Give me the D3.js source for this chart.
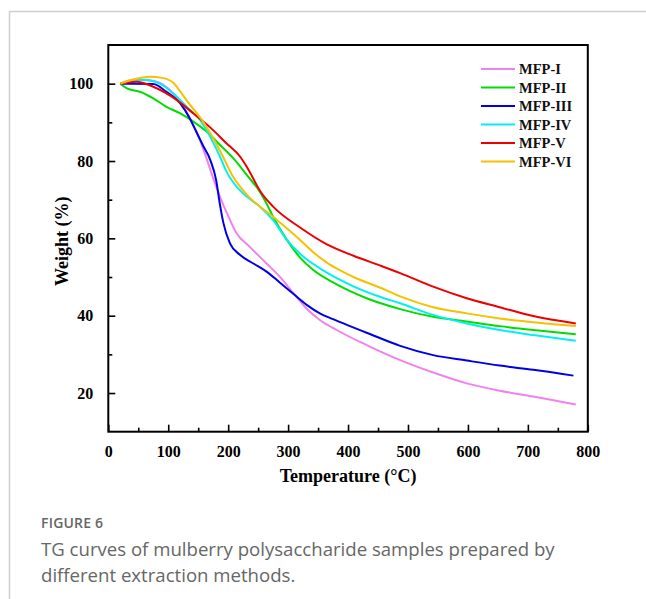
<!DOCTYPE html>
<html>
<head>
<meta charset="utf-8">
<script src="https://cdn.jsdelivr.net/npm/d3@7"></script>
<style>
  html, body { margin: 0; padding: 0; background: #fff; }
  svg { display: block; }
</style>
</head>
<body>
<svg id="chart" width="646" height="599"></svg>
<script>
// Thermogravimetric curves: [temperature °C, weight %]
const mfpI = [[20,100],[42,101],[70,100.8],[92,99.7],[108,97.5],[125,94],[139,90.2],[153,85.4],[164,80.6],[178,74.2],[192,68.6],[198,66.5],[214,61.3],[236,57.8],[264,53.5],[286,50.1],[309,45.8],[331,41.8],[353,38.9],[381,36.3],[431,32.4],[487,28.5],[542,25.3],[598,22.5],[653,20.6],[709,19.1],[780,17]];
const mfpII = [[20,100],[31,98.8],[53,97.9],[75,96.2],[97,94],[120,92.3],[142,90.2],[164,87.6],[186,84.2],[208,80.8],[231,76.4],[253,72],[264,69],[275,65.6],[298,59.6],[320,55],[342,51.8],[375,48.6],[431,44.5],[487,41.7],[542,39.7],[598,38.5],[653,37.3],[709,36.3],[780,35.2]];
const mfpIII = [[20,100],[42,100],[75,99.9],[97,97.9],[120,94.9],[136,91],[147,87.5],[158,84],[170,80.3],[180,75],[186,69],[192,64],[203,58.7],[220,55.7],[242,53.5],[264,51.4],[286,48.6],[309,45.6],[331,42.8],[353,40.6],[375,39.1],[400,37.5],[431,35.6],[487,32.2],[542,29.8],[598,28.4],[653,27.1],[709,26],[776,24.5]];
const mfpIV = [[20,100],[58,101],[86,100],[108,97.5],[131,94],[153,90.6],[170,86.3],[186,81.3],[198,77],[214,73.4],[231,70.8],[253,68.2],[275,64.7],[298,59.6],[320,56],[364,51.2],[409,47.6],[453,44.9],[487,43.2],[542,40.2],[598,38],[653,36.3],[709,35],[780,33.5]];
const mfpV = [[20,100],[47,100.5],[75,99.2],[114,95.8],[142,92.3],[170,88.7],[197,84.6],[220,81.1],[231,78.5],[240,76],[253,72.3],[275,68.2],[320,62.8],[364,58.5],[409,55.5],[453,53],[487,51],[542,47.5],[598,44.5],[653,42.2],[709,39.9],[780,38]];
const mfpVI = [[20,100],[40,101],[70,101.8],[90,101.5],[108,100.3],[120,98],[131,95.6],[158,90.2],[186,82.8],[208,76],[231,71.3],[275,65.6],[320,59.6],[342,56.4],[364,53.8],[387,51.7],[409,50],[453,47.3],[487,45],[542,42.2],[598,40.6],[653,39.3],[709,38.3],[780,37.3]];

const seriesNames = ["MFP-I","MFP-II","MFP-III","MFP-IV","MFP-V","MFP-VI"];
const seriesData = [mfpI, mfpII, mfpIII, mfpIV, mfpV, mfpVI];
const seriesColors = ["#ee82ee","#00dd00","#0000e6","#00f0f0","#ee0000","#f7c000"];

const xTicks = [0,100,200,300,400,500,600,700,800];
const xMinor = [50,150,250,350,450,550,650,750];
const yTicks = [20,40,60,80,100];
const yMinor = [30,50,70,90];

const svg = d3.select("#chart");
const W = 646, H = 599;
const plot = {left: 108.3, right: 587.8, top: 45, bottom: 431.7};

const x = d3.scaleLinear().domain([0, 800]).range([plot.left, plot.right]);
const y = d3.scaleLinear().domain([10, 110]).range([plot.bottom, plot.top]);

// page card border
svg.append("path")
  .attr("d", `M9.5,${H} L9.5,11.5 L${W},11.5`)
  .attr("fill", "none").attr("stroke", "#cfcfcf").attr("stroke-width", 1.5);

const serif = "'Liberation Serif', 'Times New Roman', serif";

// curves
const line = d3.line()
  .x(d => x(d[0])).y(d => y(d[1]))
  .curve(d3.curveMonotoneX);

const curves = svg.append("g");
seriesData.forEach((data, i) => {
  curves.append("path")
    .datum(data)
    .attr("d", line)
    .attr("fill", "none")
    .attr("stroke", seriesColors[i])
    .attr("stroke-width", 2);
});

// axes with inward ticks
const axisStyle = g => {
  g.select(".domain").remove();
  g.selectAll(".tick line").attr("stroke", "#000").attr("stroke-width", 1.6);
  g.selectAll(".tick text")
    .attr("font-family", serif).attr("font-weight", "bold")
    .attr("font-size", 16).attr("fill", "#000");
};

svg.append("g")
  .attr("transform", `translate(0,${plot.bottom})`)
  .call(d3.axisBottom(x).tickValues(xTicks).tickSize(-7).tickPadding(14).tickFormat(d3.format("d")))
  .call(axisStyle);
svg.append("g")
  .attr("transform", `translate(0,${plot.bottom})`)
  .call(d3.axisBottom(x).tickValues(xMinor).tickSize(-4).tickFormat(""))
  .call(axisStyle);

svg.append("g")
  .attr("transform", `translate(${plot.left},0)`)
  .call(d3.axisLeft(y).tickValues(yTicks).tickSize(-7).tickPadding(15).tickFormat(d3.format("d")))
  .call(axisStyle);
svg.append("g")
  .attr("transform", `translate(${plot.left},0)`)
  .call(d3.axisLeft(y).tickValues(yMinor).tickSize(-4).tickFormat(""))
  .call(axisStyle);

// plot frame
svg.append("rect")
  .attr("x", plot.left).attr("y", plot.top)
  .attr("width", plot.right - plot.left).attr("height", plot.bottom - plot.top)
  .attr("fill", "none").attr("stroke", "#000").attr("stroke-width", 2);

// axis titles
svg.append("text")
  .attr("x", (plot.left + plot.right) / 2).attr("y", 482)
  .attr("text-anchor", "middle")
  .attr("font-family", serif).attr("font-weight", "bold").attr("font-size", 18)
  .text("Temperature (°C)");

svg.append("text")
  .attr("transform", `translate(68,${(plot.top + plot.bottom) / 2 + 3}) rotate(-90)`)
  .attr("text-anchor", "middle")
  .attr("font-family", serif).attr("font-weight", "bold").attr("font-size", 18)
  .text("Weight (%)");

// legend
const legend = svg.append("g");
const legendY = [69, 87.5, 106, 124.5, 143, 161.5];
seriesNames.forEach((name, i) => {
  legend.append("line")
    .attr("x1", 481).attr("x2", 515)
    .attr("y1", legendY[i]).attr("y2", legendY[i])
    .attr("stroke", seriesColors[i]).attr("stroke-width", 2);
  legend.append("text")
    .attr("x", 519).attr("y", legendY[i] + 5)
    .attr("font-family", serif).attr("font-weight", "bold").attr("font-size", 14.5)
    .attr("fill", "#111")
    .text(name);
});

// caption
const sans = "'Open Sans', 'Noto Sans', sans-serif";
svg.append("text")
  .attr("x", 41).attr("y", 528)
  .attr("font-family", sans).attr("font-size", 14).attr("font-weight", 600)
  .attr("letter-spacing", 0.2).attr("fill", "#666")
  .text("FIGURE 6");
svg.append("text")
  .attr("x", 41).attr("y", 556)
  .attr("font-family", sans).attr("font-size", 18.6).attr("fill", "#666")
  .text("TG curves of mulberry polysaccharide samples prepared by");
svg.append("text")
  .attr("x", 41).attr("y", 582)
  .attr("font-family", sans).attr("font-size", 18.6).attr("fill", "#666")
  .text("different extraction methods.");
</script>
</body>
</html>
